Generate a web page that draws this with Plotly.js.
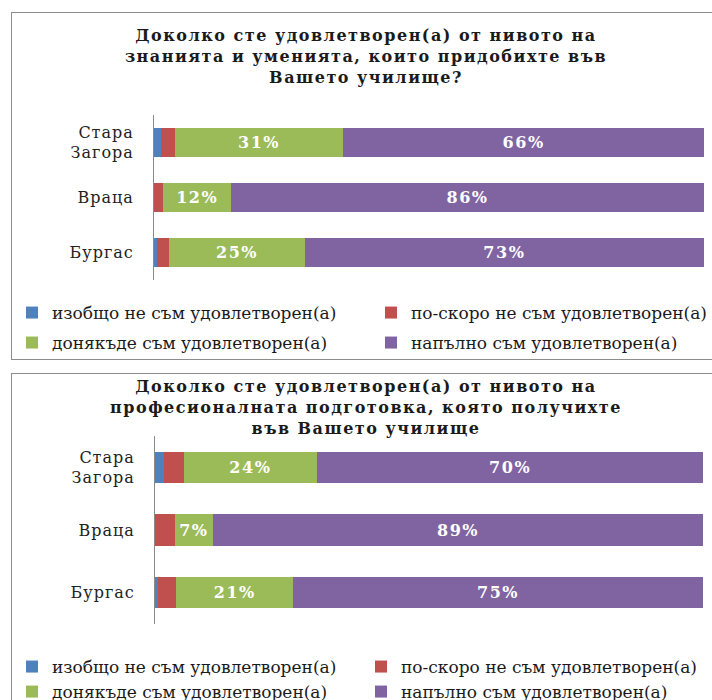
<!DOCTYPE html>
<html><head><meta charset="utf-8">
<script src="https://cdn.plot.ly/plotly-3.0.1.min.js"></script>
<style>
body{margin:0;background:#fff;width:712px;height:700px;overflow:hidden;position:relative}
.box{position:absolute;left:11px;border:1px solid #8c8c8c;background:#fff}
#c1{top:12px;width:720px;height:346px}
#c2{top:373px;width:720px;height:340px}
.js-plotly-plot .gtitle{letter-spacing:1.5px}
.js-plotly-plot .ytick text{letter-spacing:1px}
.js-plotly-plot .bartext{letter-spacing:1.5px}
</style></head><body>
<div id="c1" class="box"></div><div id="c2" class="box"></div>
<script>
// Categories (top to bottom)
const cities = ['Стара<br>Загора', 'Враца', 'Бургас'];
// Series names
const seriesNames = ['изобщо не съм удовлетворен(а)', 'по-скоро не съм удовлетворен(а)',
                     'донякъде съм удовлетворен(а)', 'напълно съм удовлетворен(а)'];
const colors = ['#4F81BD', '#C0504D', '#9BBB59', '#8064A2'];

// Chart 1: knowledge and skills (%)
const title1 = 'Доколко сте удовлетворен(а) от нивото на<br>знанията и уменията, които придобихте във<br>Вашето училище?';
const none1   = [1.3, 0, 0.6];
const rather1 = [2.5, 1.7, 2.2];
const some1   = [30.6, 12.3, 24.6];
const full1   = [65.6, 86.0, 72.6];

// Chart 2: professional preparation (%)
const title2 = 'Доколко сте удовлетворен(а) от нивото на<br>професионалната подготовка, която получихте<br>във Вашето училище';
const none2   = [1.6, 0, 0.5];
const rather2 = [3.6, 3.6, 3.4];
const some2   = [24.4, 7.0, 21.3];
const full2   = [70.4, 89.4, 74.8];

const SERIF = 'DejaVu Serif';
const legendIds = ['legend', 'legend2', 'legend3', 'legend4'];

function makeTraces(series) {
  return series.map((vals, i) => ({
    type: 'bar', orientation: 'h',
    y: cities, x: vals,
    name: seriesNames[i],
    marker: {color: colors[i], line: {width: 0}},
    texttemplate: i >= 2 ? '%{x:.0f}%' : '',
    textposition: 'inside', insidetextanchor: 'middle', constraintext: 'none',
    textfont: {family: SERIF, size: 16, color: '#ffffff', weight: 'bold'},
    hoverinfo: 'skip',
    legend: legendIds[i]
  }));
}

function makeLayout(o) {
  const legendBase = {
    orientation: 'h', xref: 'container', yref: 'container',
    xanchor: 'left', yanchor: 'middle',
    font: {family: SERIF, size: 17, color: '#1a1a1a'},
    bgcolor: 'rgba(0,0,0,0)', itemclick: false, itemdoubleclick: false
  };
  const lay = {
    width: 720, height: o.h,
    margin: {l: o.l, r: 720 - o.l - o.pw, t: o.t, b: o.h - o.t - o.ph, pad: 0},
    paper_bgcolor: '#fff', plot_bgcolor: '#fff',
    barmode: 'stack', bargap: o.gap,
    title: {text: o.title, xref: 'container', x: o.titleX, xanchor: 'center',
            yref: 'container', y: o.titleY, yanchor: 'top',
            font: {family: SERIF, size: 16, color: '#1a1a1a', weight: 'bold'}},
    xaxis: {range: [0, 100], showticklabels: false, showgrid: false, zeroline: false, showline: false, fixedrange: true},
    yaxis: {type: 'category', autorange: 'reversed', showgrid: false, zeroline: false,
            showline: true, linecolor: '#8a8a8a', linewidth: 1, ticks: '',
            ticklabelstandoff: 16,
            tickfont: {family: SERIF, size: 16, color: '#222'}, fixedrange: true},
    showlegend: true
  };
  const pos = [[o.col1, o.row1], [o.col2, o.row1], [o.col1, o.row2], [o.col2, o.row2]];
  legendIds.forEach((id, i) => {
    lay[id] = Object.assign({}, legendBase, {x: pos[i][0], y: pos[i][1]});
  });
  return lay;
}

const cfg = {displayModeBar: false, staticPlot: true};

Plotly.newPlot('c1', makeTraces([none1, rather1, some1, full1]), makeLayout({
  h: 346, l: 142, pw: 550, t: 102, ph: 165, gap: 0.49,
  title: title1, titleX: 354 / 720, titleY: 1 - 28 / 346,
  col1: 0, col2: 359 / 720, row1: 1 - 300 / 346, row2: 1 - 330 / 346
}), cfg);

Plotly.newPlot('c2', makeTraces([none2, rather2, some2, full2]), makeLayout({
  h: 340, l: 143, pw: 548, t: 62, ph: 188, gap: 0.5,
  title: title2, titleX: 354 / 720, titleY: 1 - 18 / 340,
  col1: -6 / 720, col2: 349 / 720, row1: 1 - 293 / 340, row2: 1 - 318 / 340
}), cfg);
</script>
</body></html>
